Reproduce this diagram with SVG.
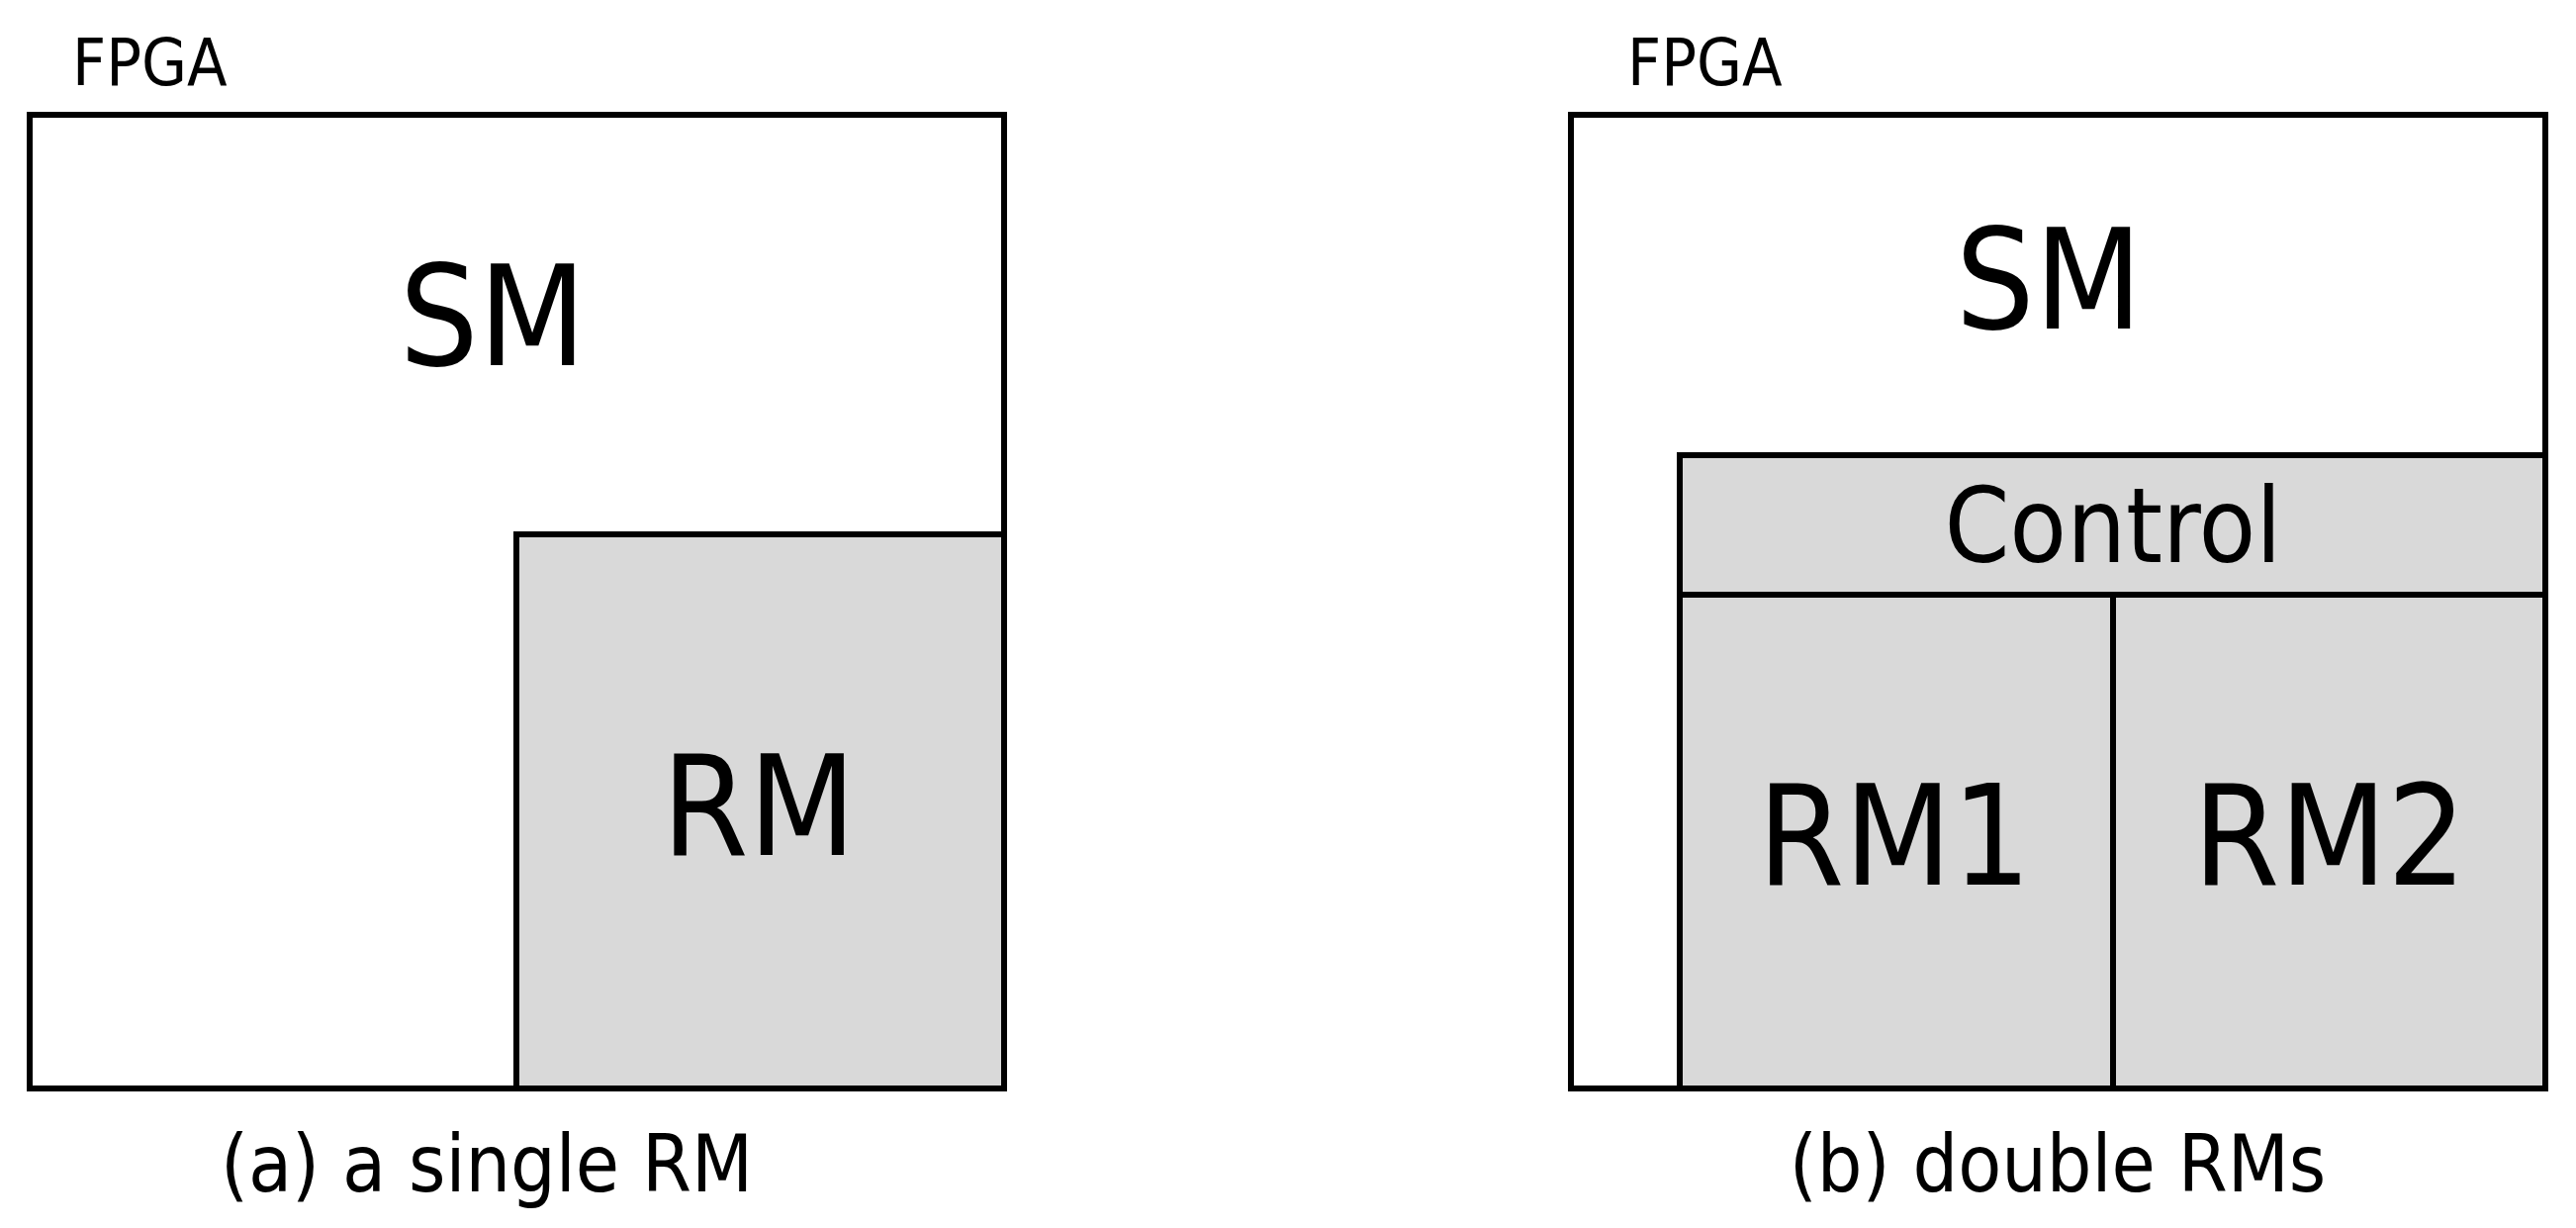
<svg xmlns="http://www.w3.org/2000/svg" width="2604" height="1241" viewBox="0 0 2604 1241">
<style>
text{font-family:"DejaVu Sans Condensed","DejaVu Sans",sans-serif;fill:#000}
.b{stroke:#000;stroke-width:6}
.w{fill:#fff}.g{fill:#d9d9d9}
.m{text-anchor:middle}
</style>
<rect width="2604" height="1241" fill="#fff"/>
<g id="fpgaA">
<rect class="b w" x="30" y="116" width="985" height="984"/>
<text x="73" y="86" font-size="66">FPGA</text>
<text class="m" x="498" y="369" font-size="140">SM</text>
</g>
<g id="rmA">
<rect class="b g" x="522" y="540" width="493" height="560"/>
<text class="m" x="767" y="864" font-size="140">RM</text>
</g>
<text class="m" x="492" y="1204" font-size="80">(a) a single RM</text>
<g id="fpgaB">
<rect class="b w" x="1588" y="116" width="985" height="984"/>
<text x="1645" y="86" font-size="66">FPGA</text>
<text class="m" x="2071" y="332" font-size="140">SM</text>
</g>
<g id="control">
<rect class="b g" x="1698" y="460" width="875" height="141"/>
<text class="m" x="2136" y="568" font-size="105">Control</text>
</g>
<g id="rm1">
<rect class="b g" x="1698" y="601" width="438" height="499"/>
<text class="m" x="1915" y="894" font-size="140">RM1</text>
</g>
<g id="rm2">
<rect class="b g" x="2136" y="601" width="437" height="499"/>
<text class="m" x="2355" y="894" font-size="140">RM2</text>
</g>
<text class="m" x="2080" y="1204" font-size="80">(b) double RMs</text>
<g id="connectors"/>
</svg>
